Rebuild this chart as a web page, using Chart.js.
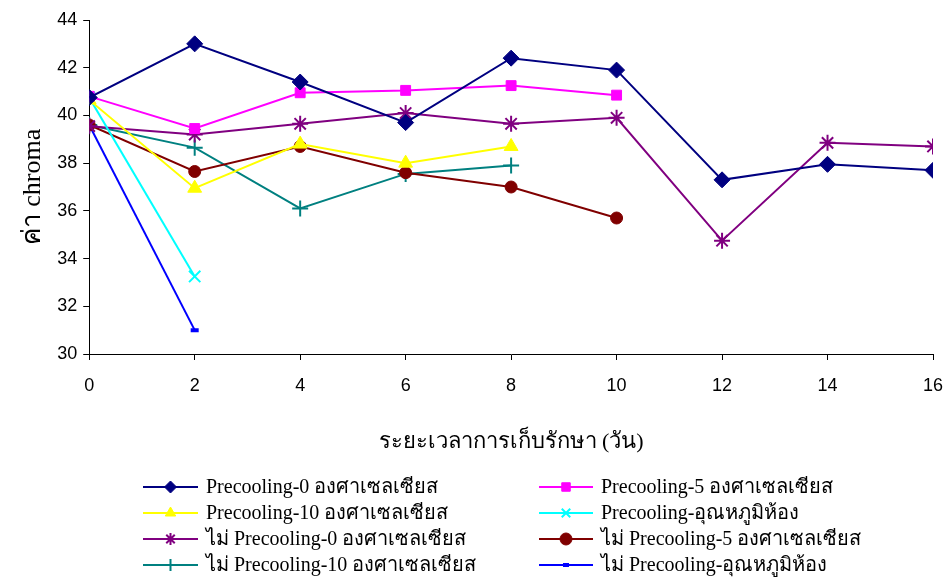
<!DOCTYPE html>
<html>
<head>
<meta charset="utf-8">
<script src="https://cdn.jsdelivr.net/npm/chart.js@4"></script>
<style>
  body { margin: 0; background: #fff; }
  #wrap { width: 948px; height: 583px; }
</style>
</head>
<body>
<div id="wrap"><canvas id="chromaChart" width="948" height="583"></canvas></div>
<script>
// storage time (days)
const days = [0, 2, 4, 6, 8, 10, 12, 14, 16];

// chroma values per treatment
const pre0 = [40.75, 43.0, 41.4, 39.7, 42.4, 41.9, 37.3, 37.95, 37.7];
const pre5 = [40.8, 39.45, 40.95, 41.05, 41.25, 40.85];
const pre10 = [40.65, 36.95, 38.8, 38.0, 38.7];
const preRoom = [40.75, 33.25];
const no0 = [39.55, 39.2, 39.65, 40.1, 39.65, 39.9, 34.75, 38.85, 38.7];
const no5 = [39.6, 37.65, 38.7, 37.6, 37.0, 35.7];
const no10 = [39.6, 38.65, 36.1, 37.55, 37.9];
const noRoom = [39.6, 31.0];

const seriesLabels = [
    'Precooling-0 องศาเซลเซียส',
    'Precooling-5 องศาเซลเซียส',
    'Precooling-10 องศาเซลเซียส',
    'Precooling-อุณหภูมิห้อง',
    'ไม่ Precooling-0 องศาเซลเซียส',
    'ไม่ Precooling-5 องศาเซลเซียส',
    'ไม่ Precooling-10 องศาเซลเซียส',
    'ไม่ Precooling-อุณหภูมิห้อง'
];

const serifFont = "'Liberation Serif', 'Times New Roman', serif";
const sansFont = "'Liberation Sans', Arial, sans-serif";

function series(values) {
    return values.map((v, i) => ({ x: days[i], y: v }));
}

function makeSet(label, values, color, style, radius, width) {
    return {
        label: label,
        data: series(values),
        borderColor: color,
        backgroundColor: color,
        borderWidth: 2,
        pointStyle: style,
        pointRadius: radius,
        pointBorderWidth: width || 1,
        pointBorderColor: color,
        pointBackgroundColor: color,
        tension: 0
    };
}

const datasets = [
    makeSet(seriesLabels[0], pre0, '#000080', 'rectRot', 8),
    makeSet(seriesLabels[1], pre5, '#ff00ff', 'rect', 7),
    makeSet(seriesLabels[2], pre10, '#ffff00', 'triangle', 8),
    makeSet(seriesLabels[3], preRoom, '#00ffff', 'crossRot', 8, 2),
    makeSet(seriesLabels[4], no0, '#800080', 'star', 8, 2),
    makeSet(seriesLabels[5], no5, '#800000', 'circle', 6),
    makeSet(seriesLabels[6], no10, '#008080', 'cross', 8, 2),
    makeSet(seriesLabels[7], noRoom, '#0000ff', 'line', 4, 4)
];

// two-column legend drawn under the axis title
const gridLegend = {
    id: 'gridLegend',
    afterDraw(chart) {
        const ctx = chart.ctx;
        const cols = [{ x0: 143, x1: 198, tx: 206 }, { x0: 539, x1: 593, tx: 601 }];
        const rows = [487, 513, 539, 565];
        ctx.save();
        chart.data.datasets.forEach((ds, i) => {
            const c = cols[i % 2];
            const y = rows[Math.floor(i / 2)];
            ctx.strokeStyle = ds.borderColor;
            ctx.lineWidth = 2;
            ctx.beginPath();
            ctx.moveTo(c.x0, y);
            ctx.lineTo(c.x1, y);
            ctx.stroke();
            ctx.fillStyle = ds.pointBackgroundColor;
            ctx.strokeStyle = ds.pointBorderColor;
            ctx.lineWidth = ds.pointBorderWidth;
            Chart.helpers.drawPoint(ctx, {
                pointStyle: ds.pointStyle,
                radius: ds.pointStyle === 'line' ? 3 : 6,
                rotation: 0,
                borderWidth: ds.pointBorderWidth
            }, (c.x0 + c.x1) / 2, y);
            ctx.fillStyle = '#000';
            ctx.font = '20px ' + serifFont;
            ctx.textBaseline = 'middle';
            ctx.textAlign = 'left';
            ctx.fillText(ds.label, c.tx, y + 1);
        });
        ctx.restore();
    }
};

new Chart(document.getElementById('chromaChart'), {
    type: 'line',
    data: { datasets: datasets },
    options: {
        responsive: false,
        animation: false,
        layout: { padding: { top: 20, left: 18, right: 0, bottom: 128 } },
        plugins: {
            legend: { display: false },
            tooltip: { enabled: false }
        },
        scales: {
            x: {
                type: 'linear',
                min: 0,
                max: 16,
                ticks: { stepSize: 2, color: '#000', font: { family: sansFont, size: 18 }, padding: 15 },
                grid: { drawOnChartArea: false, drawTicks: true, tickLength: 6, color: '#000' },
                border: { color: '#000', width: 1 },
                title: {
                    display: true,
                    text: 'ระยะเวลาการเก็บรักษา (วัน)',
                    color: '#000',
                    font: { family: serifFont, size: 22 },
                    padding: { top: 17, bottom: 0 }
                },
                afterFit(scale) {
                    // keep the "16" label close to the right edge
                    scale.paddingRight = 15;
                    scale.paddingLeft = 0;
                }
            },
            y: {
                min: 30,
                max: 44,
                ticks: { stepSize: 2, color: '#000', font: { family: sansFont, size: 18 }, padding: 6 },
                grid: { drawOnChartArea: false, drawTicks: true, tickLength: 6, color: '#000' },
                border: { color: '#000', width: 1 },
                title: {
                    display: true,
                    text: 'ค่า chroma',
                    color: '#000',
                    font: { family: serifFont, size: 26 },
                    padding: { top: 0, bottom: 2 }
                }
            }
        }
    },
    plugins: [gridLegend]
});
</script>
</body>
</html>
